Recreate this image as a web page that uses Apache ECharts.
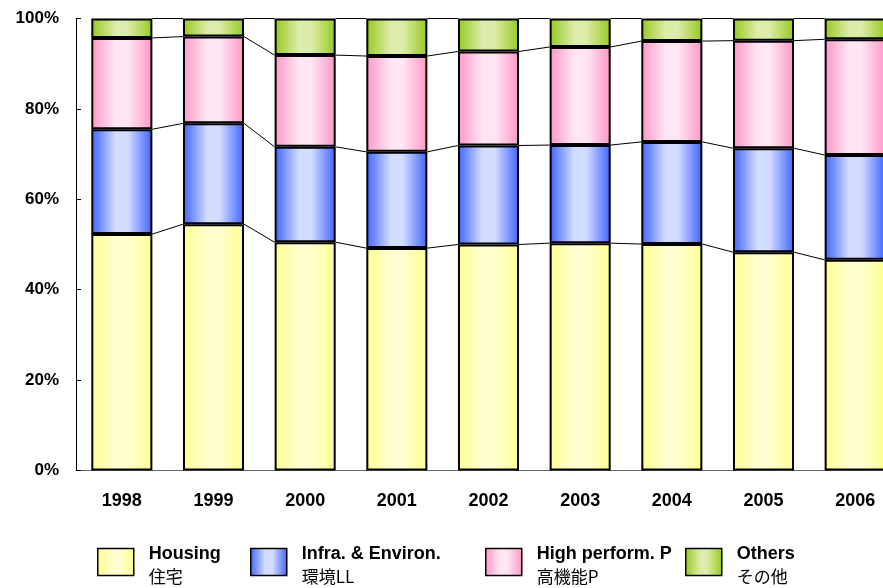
<!DOCTYPE html>
<html>
<head>
<meta charset="utf-8">
<script src="https://cdn.jsdelivr.net/npm/echarts@6/dist/echarts.min.js"></script>
<style>html,body{margin:0;padding:0;background:#fff;overflow:hidden}#c{width:901px;height:588px}</style>
</head>
<body>
<div id="c"></div>
<script>
const categories = ['1998','1999','2000','2001','2002','2003','2004','2005','2006'];
const housing = [52.3, 54.5, 50.5, 49.2, 50.0, 50.3, 50.1, 48.3, 46.6];
const infra   = [23.2, 22.3, 21.1, 21.3, 21.9, 21.7, 22.6, 23.0, 23.2];
const highP   = [20.2, 19.2, 20.3, 21.2, 20.8, 21.7, 22.3, 23.8, 25.6];
const others  = [4.3, 4.0, 8.1, 8.3, 7.3, 6.3, 5.0, 4.9, 4.6];
const yTicks = ['0%','20%','40%','60%','80%','100%'];
const seriesNames = ['Housing\n住宅', 'Infra. & Environ.\n環境LL', 'High perform. P\n高機能P', 'Others\nその他'];

const latin = '"Liberation Sans", Arial, sans-serif';
const cjk = '"Noto Sans CJK JP", sans-serif';

function grad(dark, light) {
  return new echarts.graphic.LinearGradient(0, 0, 1, 0, [
    {offset: 0, color: dark},
    {offset: 0.4, color: light},
    {offset: 0.6, color: light},
    {offset: 1, color: dark}
  ]);
}
const fills = [
  grad('#ffff90', '#ffffd0'),
  grad('#3f63ff', '#d2dcff'),
  grad('#ff96c8', '#ffe6f2'),
  grad('#96c81e', '#dcecaa')
];
const allData = [housing, infra, highP, others];

// cumulative boundaries for connector lines
const connectors = [];
for (let i = 0; i < categories.length - 1; i++) {
  let c1 = 0, c2 = 0;
  for (let s = 0; s < allData.length; s++) {
    c1 += allData[s][i];
    c2 += allData[s][i + 1];
    connectors.push([i, Math.min(c1, 100), Math.min(c2, 100)]);
  }
}

const BAR_RATIO = 0.666;

const series = seriesNames.map((n, s) => ({
  name: n,
  type: 'bar',
  stack: 'total',
  barWidth: (BAR_RATIO * 100) + '%',
  data: allData[s],
  itemStyle: {color: fills[s], borderColor: '#000', borderWidth: 2},
  emphasis: {disabled: true},
  z: 3
}));
series.push({
  type: 'custom',
  name: 'conn',
  data: connectors,
  z: 2,
  silent: true,
  clip: false,
  renderItem: function (params, api) {
    const i = api.value(0);
    const p1 = api.coord([i, api.value(1)]);
    const p2 = api.coord([i + 1, api.value(2)]);
    const half = api.size([1, 0])[0] * BAR_RATIO / 2;
    return {
      type: 'line',
      shape: {x1: p1[0] + half, y1: p1[1], x2: p2[0] - half, y2: p2[1]},
      style: {stroke: '#000', lineWidth: 1}
    };
  }
});

const legendLefts = [97, 250, 485, 685];
const legends = seriesNames.map((n, s) => ({
  data: [n],
  left: legendLefts[s],
  top: 545,
  padding: 0,
  icon: 'rect',
  itemWidth: 36,
  itemHeight: 27,
  selectedMode: false,
  itemStyle: {borderColor: '#000', borderWidth: 1.5},
  formatter: function (name) {
    const parts = name.split('\n');
    return '{a|' + parts[0] + '}\n{b|' + parts[1] + '}';
  },
  textStyle: {
    padding: [7, 0, 0, 10],
    rich: {
      a: {fontFamily: latin, fontWeight: 'bold', fontSize: 18, color: '#000', lineHeight: 23},
      b: {fontFamily: cjk, fontSize: 17, color: '#000', lineHeight: 23}
    }
  }
}));

const chart = echarts.init(document.getElementById('c'), null, {renderer: 'canvas'});
chart.setOption({
  animation: false,
  backgroundColor: '#fff',
  grid: {left: 76, top: 18.5, right: 0, bottom: 117.5, containLabel: false},
  xAxis: {
    type: 'category',
    data: categories,
    boundaryGap: true,
    axisLine: {lineStyle: {color: '#666', width: 1}},
    axisTick: {inside: true, length: 5, lineStyle: {color: '#666'}},
    axisLabel: {margin: 22, fontFamily: latin, fontWeight: 'bold', fontSize: 18, color: '#000'}
  },
  yAxis: {
    type: 'value',
    min: 0, max: 100, interval: 20,
    axisLine: {show: true, lineStyle: {color: '#000', width: 1}},
    axisTick: {show: true, inside: true, length: 5, lineStyle: {color: '#000'}},
    splitLine: {show: false},
    axisLabel: {
      margin: 17, fontFamily: latin, fontWeight: 'bold', fontSize: 17, color: '#000',
      formatter: function (v) { return yTicks[Math.round(v / 20)]; }
    }
  },
  legend: legends,
  series: series
});
</script>
</body>
</html>
